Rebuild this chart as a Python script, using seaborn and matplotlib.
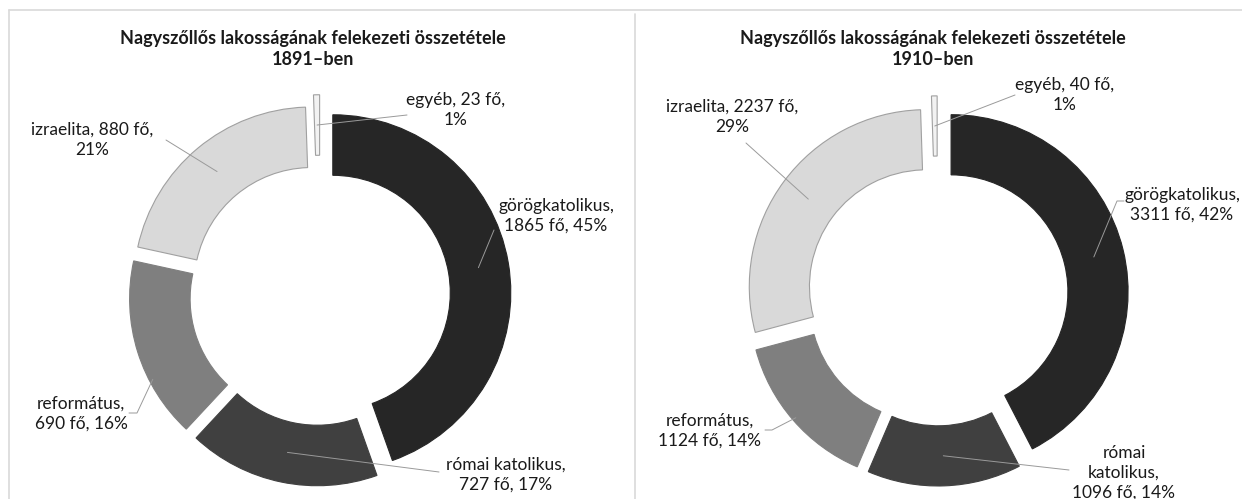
import numpy as np
import matplotlib
matplotlib.use('Agg')
import matplotlib.pyplot as plt
from matplotlib.lines import Line2D
import seaborn as sns

categories = ['görögkatolikus', 'római katolikus', 'református', 'izraelita', 'egyéb']
years = ['1891', '1910']
counts_1891 = [1865, 727, 690, 880, 23]
counts_1910 = [3311, 1096, 1124, 2237, 40]

title_base = 'Nagyszőllős lakosságának felekezeti összetétele'
grays = sns.color_palette(['#262626', '#404040', '#7f7f7f', '#d9d9d9', '#f2f2f2'])

W, H = 1242, 499

# layout of each panel in pixels (label centers, leader start points)
panels = [
    dict(span=(0, 621), center=(320, 295), R=178, explode=0.073,
         title_x=313,
         fmt=['{c},\n{n} fő, {p}%', '{c},\n{n} fő, {p}%', '{c},\n{n} fő, {p}%',
              '{c}, {n} fő,\n{p}%', '{c}, {n} fő,\n{p}%'],
         label_xy=[(556, 216), (506, 475), (81, 414), (92, 140), (456, 110)],
         line_from=[[(494, 230)], [(439, 472)], [(129, 413), (137, 413)],
                    [(166, 140)], [(407, 115)]],
         anchor=[(0.5, 0.83), (0.5, 0.83), (0.33, 0.98), (0.5, 0.83), (0.5, 0.83)]),
    dict(span=(621, 1242), center=(937.5, 295), R=177, explode=0.079,
         title_x=933,
         fmt=['{c},\n{n} fő, {p}%', '{c2},\n{n} fő, {p}%', '{c},\n{n} fő, {p}%',
              '{c}, {n} fő,\n{p}%', '{c}, {n} fő,\n{p}%'],
         label_xy=[(1182, 205), (1124, 473), (710, 431), (732, 117), (1065, 95)],
         line_from=[[(1124, 201), (1117, 201)], [(1069, 470)], [(765, 430), (772, 430)],
                    [(746, 143)], [(1015, 95)]],
         anchor=[(0.5, 0.83), (0.5, 0.83), (0.5, 0.98), (0.5, 0.83), (0.5, 0.83)]),
]

sns.set_theme(style='white')
plt.rcParams['font.family'] = ['Lato', 'DejaVu Sans']

fig = plt.figure(figsize=(W / 100, H / 100), dpi=100)
fig.patch.set_facecolor('white')

for year, counts, lay in zip(years, [counts_1891, counts_1910], panels):
    x0, x1 = lay['span']
    cx, cy = lay['center']
    R = lay['R']
    ax = fig.add_axes([x0 / W, 0, (x1 - x0) / W, 1])

    ex = [lay['explode']] * 4 + [0.125]
    wedges, _ = ax.pie(counts, startangle=90, counterclock=False, radius=1,
                       explode=ex, colors=grays,
                       wedgeprops=dict(width=0.34, linewidth=0.8))
    for k, w in enumerate(wedges):
        if k >= 3:
            w.set_edgecolor('#a0a0a0')
        else:
            w.set_edgecolor(grays[k])

    # pie() resets limits, so pin them afterwards: 1 unit = R pixels
    ax.set_aspect('auto')
    ax.set_xlim((x0 - cx) / R, (x1 - cx) / R)
    ax.set_ylim(-(H - cy) / R, cy / R)
    ax.axis('off')

    total = sum(counts)
    to_data = lambda p: ((p[0] - cx) / R, (cy - p[1]) / R)
    for k, w in enumerate(wedges):
        pct = round(100 * counts[k] / total)
        txt = lay['fmt'][k].format(c=categories[k], c2=categories[k].replace(' ', '\n'),
                                   n=counts[k], p=pct)
        lx, ly = to_data(lay['label_xy'][k])
        ax.text(lx, ly, txt, ha='center', va='center', fontsize=12.5,
                color='#1a1a1a', linespacing=1.3, clip_on=False)
        # leader line to the middle of the wedge
        f, rr = lay['anchor'][k]
        th = np.deg2rad(w.theta2 - f * (w.theta2 - w.theta1))
        end = (w.center[0] + rr * np.cos(th), w.center[1] + rr * np.sin(th))
        pts = [to_data(p) for p in lay['line_from'][k]] + [end]
        xs, ys = zip(*pts)
        ax.plot(xs, ys, color='#9a9a9a', lw=0.7, zorder=5)

    fig.text(lay['title_x'] / W, 1 - 49 / H, f'{title_base}\n{year}–ben',
             ha='center', va='center', fontsize=13, fontweight='bold',
             color='#1a1a1a', linespacing=1.35)

# chart area frames
fr = dict(color='#d9d9d9', lw=1.2, transform=fig.transFigure)
fig.add_artist(Line2D([9 / W, 1], [1 - 10 / H, 1 - 10 / H], **fr))
fig.add_artist(Line2D([9 / W, 9 / W], [0, 1 - 10 / H], **fr))
fig.add_artist(Line2D([635 / W, 635 / W], [0, 1 - 14 / H], **fr))

fig.savefig('out.png', dpi=100, facecolor='white')
